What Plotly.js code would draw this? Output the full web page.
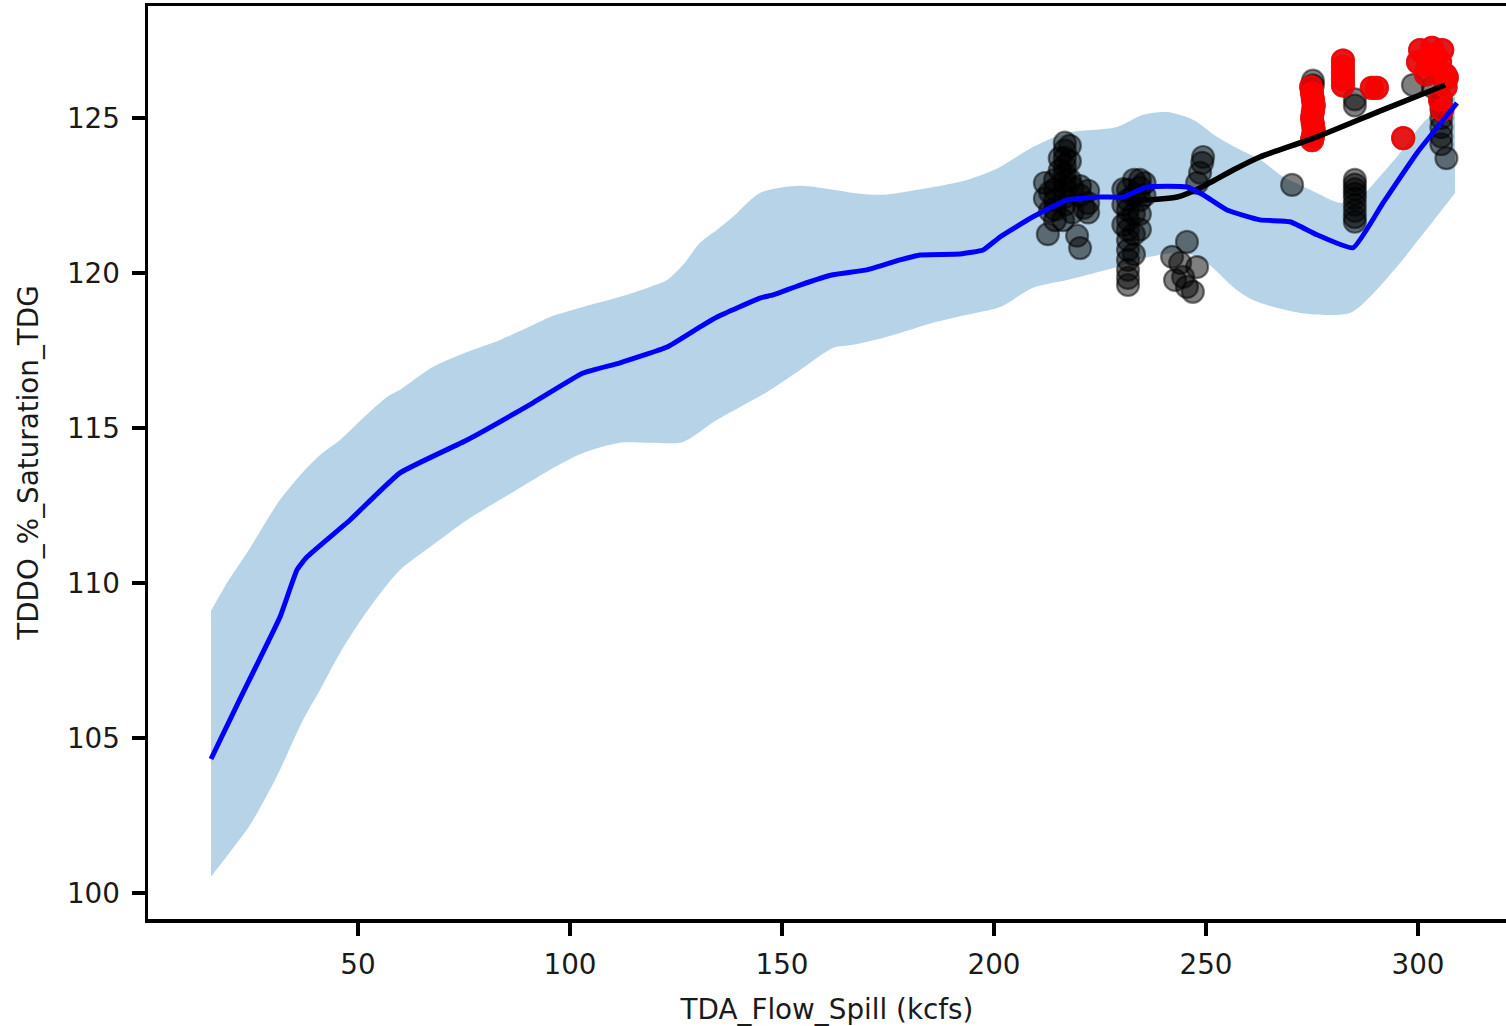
<!DOCTYPE html>
<html>
<head>
<meta charset="utf-8">
<script src="https://cdn.plot.ly/plotly-3.0.1.min.js"></script>
<style>
html,body{margin:0;padding:0;background:#fff;overflow:hidden;}
#chart{width:1506px;height:1026px;}
</style>
</head>
<body>
<div id="chart"></div>
<script>
// ---- Data ----
const xTickVals = [50, 100, 150, 200, 250, 300];
const yTickVals = [100, 105, 110, 115, 120, 125];

// Prediction band (upper / lower bounds)
const bandUpperX = [15.33,19.10,24.53,28.54,31.60,37.03,41.04,45.75,51.18,56.84,59.91,67.69,75.71,83.49,91.27,95.28,103.07,111.79,118.87,122.88,126.65,130.66,134.67,138.44,144.81,154.25,162.03,166.75,173.82,181.84,193.63,201.42,209.20,217.22,229.01,235.14,240.80,246.93,252.59,258.02,262.74,268.16,272.17,276.18,281.60,286.32,291.75,295.75,301.18,308.73];
const bandUpperY = [109.10,110.00,111.13,112.03,112.68,113.58,114.13,114.61,115.32,116.00,116.23,116.97,117.45,117.84,118.32,118.58,118.90,119.23,119.55,119.77,120.26,120.97,121.39,121.81,122.58,122.81,122.68,122.58,122.52,122.68,123.00,123.42,124.06,124.52,124.71,125.10,125.19,124.94,124.39,123.97,123.65,123.10,122.84,122.58,122.26,122.45,123.23,123.87,124.84,125.68];
const bandLowerX = [15.33,19.10,24.53,28.54,31.60,37.03,41.04,45.75,51.18,56.84,59.91,67.69,75.71,83.49,91.27,95.28,103.07,111.79,118.87,126.65,134.67,146.46,154.25,162.03,166.75,173.82,177.83,185.61,193.63,201.42,209.20,217.22,229.01,236.79,244.58,250.24,256.37,261.08,272.17,283.96,288.68,295.75,308.73];
const bandLowerY = [100.52,101.19,102.19,103.16,103.97,105.58,106.55,107.74,108.90,109.94,110.42,111.23,112.03,112.68,113.32,113.65,114.19,114.52,114.52,114.55,115.26,116.16,116.87,117.58,117.68,117.90,118.06,118.39,118.65,118.90,119.52,119.77,120.19,120.52,120.65,120.32,119.55,119.13,118.71,118.71,119.23,120.32,122.58];

// Mean prediction (blue)
const meanX = [15.33,22.17,31.60,35.61,37.97,48.11,59.91,75.71,91.27,103.07,111.79,122.88,130.66,134.67,144.81,147.88,154.25,162.03,170.05,177.83,182.55,191.98,197.41,201.42,209.20,217.22,225.00,230.42,236.08,245.52,249.29,254.95,262.74,269.81,276.18,284.67,291.75,299.76,309.20];
const meanY = [104.32,106.26,108.90,110.42,110.84,112.03,113.55,114.61,115.81,116.77,117.10,117.61,118.26,118.58,119.19,119.29,119.61,119.94,120.10,120.42,120.58,120.61,120.74,121.16,121.81,122.35,122.45,122.45,122.77,122.77,122.52,122.03,121.71,121.65,121.23,120.81,122.26,123.87,125.48];

// Fit through observations (black)
const fitX = [230.2,235.1,243.2,248.6,256.4,262.7,276.2,291.7,306.4];
const fitY = [122.39,122.35,122.45,122.74,123.32,123.74,124.39,125.26,126.06];

// Observations (black, semi-transparent)
const obsX = [212.0,212.0,212.7,213.2,213.2,214.4,214.4,214.4,214.4,214.4,215.5,215.5,216.7,216.7,216.7,216.7,216.7,216.7,216.7,216.7,216.7,216.3,217.9,217.9,217.9,218.5,218.5,219.6,220.3,220.3,220.3,221.2,222.2,222.2,222.2,
  231.6,231.6,231.6,231.6,231.6,231.6,231.6,231.6,231.6,231.6,231.6,230.5,230.5,230.5,233.0,233.0,233.0,233.0,233.0,234.4,234.4,234.4,234.4,234.4,235.5,235.5,
  245.5,242.0,243.9,247.9,242.7,245.5,246.9,244.6,
  249.3,249.1,248.6,247.9,
  270.3,
  275.2,275.2,285.1,285.1,
  285.1,285.1,285.1,285.1,285.1,285.1,285.1,285.1,285.1,
  298.8,305.5,305.5,305.5,305.5,305.5,305.5,306.7,303.5];
const obsY = [122.9,122.4,121.25,122.0,122.6,123.0,122.7,122.35,122.05,121.7,123.3,123.7,124.2,123.95,123.7,123.45,123.2,122.95,122.7,122.45,122.2,121.7,124.1,123.6,123.0,122.75,121.95,121.2,122.8,122.5,120.8,122.1,122.65,122.25,121.95,
  122.68,122.35,122.03,121.71,121.39,121.06,120.74,120.42,120.1,119.84,119.61,122.7,122.2,121.55,123.0,122.5,121.9,121.25,120.6,123.0,122.75,122.35,121.9,121.4,122.9,122.5,
  121.0,120.52,120.32,120.19,119.77,119.55,119.39,119.87,
  123.74,123.55,123.23,122.9,
  122.84,
  126.2,126.05,125.6,125.4,
  123.0,122.85,122.7,122.55,122.4,122.2,122.0,121.8,121.65,
  126.06,125.6,125.3,125.0,124.7,124.4,124.15,123.7,126.0];

// Exceedances (red)
const exX = [274.8,275.0,275.2,275.4,275.2,275.0,275.2,275.4,275.2,275.0,
  282.3,282.3,282.3,282.3,282.3,
  289.1,290.3,296.5,
  300.5,303.3,305.7,300.0,302.4,305.2,306.4,301.9,305.2,305.7,306.8,304.0,306.5];
const exY = [126.0,125.8,125.6,125.4,125.2,125.0,124.8,124.6,124.4,124.28,
  126.85,126.65,126.45,126.25,126.05,
  125.97,125.97,124.35,
  127.19,127.26,127.19,126.8,126.7,126.8,126.4,126.4,125.58,125.26,126.3,127.0,126.0];

// ---- Traces ----
const bandX = [bandUpperX[0]].concat(bandUpperX, [bandUpperX[bandUpperX.length-1]],
  [bandLowerX[bandLowerX.length-1]], bandLowerX.slice().reverse(), [bandLowerX[0]]);
const bandY = [bandUpperY[0]].concat(bandUpperY, [bandUpperY[bandUpperY.length-1]],
  [bandLowerY[bandLowerY.length-1]], bandLowerY.slice().reverse(), [bandLowerY[0]]);

const traces = [
  {x: bandX, y: bandY, type: 'scatter', mode: 'lines', fill: 'toself',
   fillcolor: 'rgba(31,119,180,0.32)', line: {width: 0, color: 'rgba(0,0,0,0)', shape: 'spline', smoothing: 0.8}, hoverinfo: 'skip'},
  {x: obsX.concat(exX), y: obsY.concat(exY), type: 'scatter', mode: 'markers',
   marker: {size: 22, color: 'rgba(0,0,0,0.5)', line: {width: 2.2, color: 'rgba(0,0,0,0.5)'}}},
  {x: exX, y: exY, type: 'scatter', mode: 'markers',
   marker: {size: 22, color: 'rgba(255,0,0,0.8)', line: {width: 2.2, color: 'rgba(255,0,0,0.8)'}}},
  {x: fitX, y: fitY, type: 'scatter', mode: 'lines',
   line: {color: '#000000', width: 5.5, shape: 'spline', smoothing: 0.6}},
  {x: meanX, y: meanY, type: 'scatter', mode: 'lines',
   line: {color: '#0000ff', width: 5, shape: 'spline', smoothing: 0.4}}
];

const axisFont = {family: 'DejaVu Sans', size: 27.8, color: '#1a1a1a'};

const layout = {
  width: 1506, height: 1026,
  margin: {l: 148, r: 0, t: 6, b: 107, pad: 0},
  paper_bgcolor: '#ffffff', plot_bgcolor: '#ffffff',
  showlegend: false,
  font: axisFont,
  xaxis: {
    range: [0.47, 320.75], tickvals: xTickVals, ticktext: xTickVals.map(String),
    ticks: 'outside', ticklen: 13, tickwidth: 3.5, tickcolor: '#000',
    showline: true, linewidth: 3.5, linecolor: '#000', mirror: true,
    showgrid: false, zeroline: false, tickfont: axisFont, ticklabelstandoff: 5,
    title: {text: 'TDA_Flow_Spill (kcfs)', font: axisFont, standoff: 20}
  },
  yaxis: {
    range: [99.16, 128.61], tickvals: yTickVals, ticktext: yTickVals.map(String),
    ticks: 'outside', ticklen: 13, tickwidth: 3.5, tickcolor: '#000',
    showline: true, linewidth: 3.5, linecolor: '#000', mirror: false,
    showgrid: false, zeroline: false, tickfont: axisFont, ticklabelstandoff: 6,
    title: {text: 'TDDO_%_Saturation_TDG', font: axisFont, standoff: 21}
  }
};

Plotly.newPlot('chart', traces, layout, {displayModeBar: false, staticPlot: true});
</script>
</body>
</html>
